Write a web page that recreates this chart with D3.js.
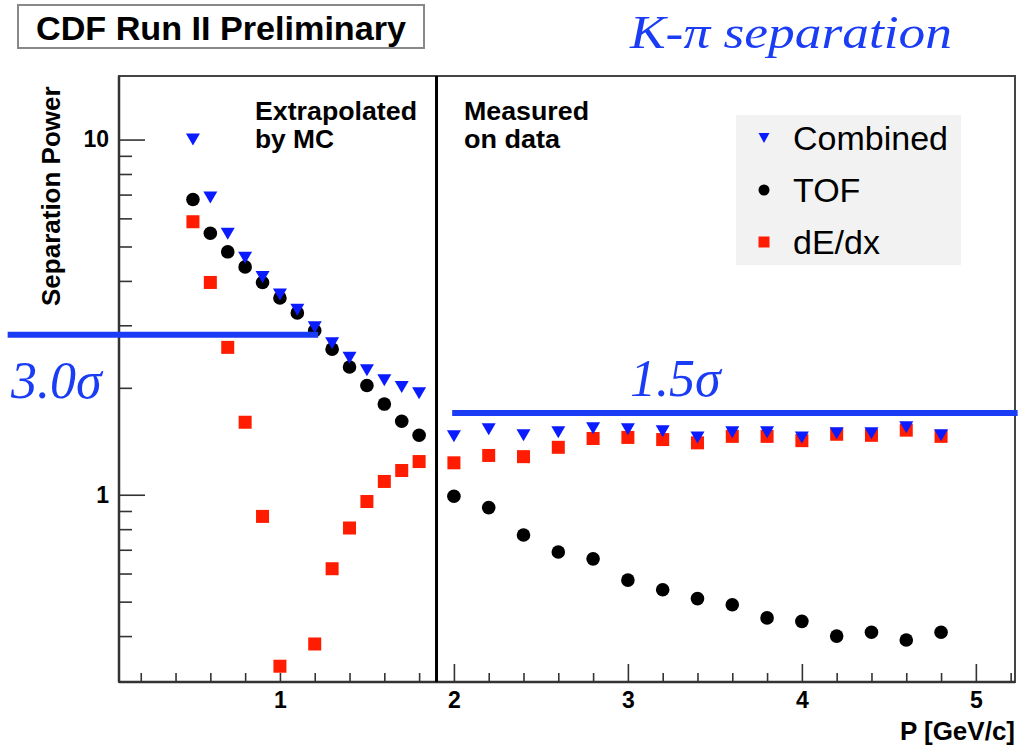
<!DOCTYPE html>
<html>
<head>
<meta charset="utf-8">
<script src="https://cdn.jsdelivr.net/npm/d3@7/dist/d3.min.js"></script>
<style>
  html, body { margin: 0; padding: 0; background: #fff; }
  svg { display: block; }
</style>
</head>
<body>
<svg id="chart" width="1019" height="746"></svg>
<script>
// ---------------- DATA ----------------
const momentum = [0.5, 0.6, 0.7, 0.8, 0.9, 1.0, 1.1, 1.2, 1.3, 1.4, 1.5, 1.6, 1.7, 1.8,
                  2.0, 2.2, 2.4, 2.6, 2.8, 3.0, 3.2, 3.4, 3.6, 3.8, 4.0, 4.2, 4.4, 4.6, 4.8];
const combined = [10.0, 6.87, 5.43, 4.65, 4.10, 3.66, 3.32, 2.96, 2.67, 2.43, 2.24, 2.10, 2.01, 1.93,
                  1.46, 1.53, 1.47, 1.50, 1.54, 1.53, 1.51, 1.45, 1.50, 1.50, 1.45, 1.49, 1.49, 1.55, 1.47];
const tof      = [6.78, 5.45, 4.83, 4.38, 3.96, 3.58, 3.25, 2.90, 2.57, 2.29, 2.03, 1.80, 1.61, 1.47,
                  0.99, 0.92, 0.77, 0.69, 0.66, 0.575, 0.54, 0.51, 0.49, 0.45, 0.44, 0.40, 0.41, 0.39, 0.41];
const dedx     = [5.87, 3.96, 2.60, 1.60, 0.869, 0.329, null, 0.380, 0.619, 0.806, 0.957, 1.09, 1.17, 1.24,
                  1.23, 1.29, 1.28, 1.36, 1.44, 1.45, 1.43, 1.40, 1.46, 1.46, 1.42, 1.48, 1.47, 1.52, 1.46];

const seriesNames = ["Combined", "TOF", "dE/dx"];
const xMajorTicks = [2, 3, 4, 5];
const xMinorTicks = [0.2, 0.4, 0.6, 0.8, 1.0, 1.2, 1.4, 1.6, 1.8, 2.2, 2.4, 2.6, 2.8,
                     3.2, 3.4, 3.6, 3.8, 4.2, 4.4, 4.6, 4.8, 5.2];
const xTickLabels = [1, 2, 3, 4, 5];
const yMajorTicks = [1, 10];
const yMinorTicks = [0.4, 0.5, 0.6, 0.7, 0.8, 0.9, 2, 3, 4, 5, 6, 7, 8, 9];
const boundaryP = 1.9;                     // Extrapolated / Measured boundary
const sigmaLines = [                        // annotation lines [value, pStart, pEnd, label]
  { label: "3.0σ", value: 2.82, p0: -0.565, p1: 1.22 },
  { label: "1.5σ", value: 1.70, p0: 1.99, p1: 5.24 }
];

// ---------------- SETUP ----------------
const svg = d3.select("#chart");
const L = 119, R = 1015, T = 76, B = 682;

const x = d3.scaleLinear().domain([0.075, 5.225]).range([L, R]);
const y = d3.scaleLog().domain([0.297, 15.1]).range([B, T]);

const BLUE = "#0a1cff", RED = "#ff1c00", ANNO = "#1a3cf5";
const sans = "'Liberation Sans', Arial, Helvetica, sans-serif";
const serif = "'Liberation Serif', 'Times New Roman', serif";

svg.append("rect").attr("width", 1019).attr("height", 746).attr("fill", "#fff");

// ---------------- AXES ----------------
function styleAxis(g) {
  g.select(".domain").remove();
  g.selectAll(".tick line").attr("stroke", "#333").attr("stroke-width", 1.6);
  g.selectAll("text").attr("fill", "#000").attr("font-family", sans)
   .attr("font-size", 23).attr("font-weight", "bold");
}
svg.append("g").attr("transform", `translate(0,${B})`)
  .call(d3.axisBottom(x).tickValues(xMinorTicks).tickSize(-9).tickFormat(""))
  .call(styleAxis);
svg.append("g").attr("transform", `translate(0,${B})`)
  .call(d3.axisBottom(x).tickValues(xMajorTicks).tickSize(-18).tickFormat(""))
  .call(styleAxis);
svg.append("g").attr("transform", `translate(0,${B})`)
  .call(d3.axisBottom(x).tickValues(xTickLabels).tickSize(0).tickPadding(10).tickFormat(d3.format("d")))
  .call(styleAxis);

svg.append("g").attr("transform", `translate(${L},0)`)
  .call(d3.axisLeft(y).tickValues(yMinorTicks).tickSize(-13).tickFormat(""))
  .call(styleAxis);
svg.append("g").attr("transform", `translate(${L},0)`)
  .call(d3.axisLeft(y).tickValues(yMajorTicks).tickSize(-26).tickFormat(""))
  .call(styleAxis);
svg.append("g").attr("transform", `translate(${L},0)`)
  .call(d3.axisLeft(y).tickValues(yMajorTicks).tickSize(0).tickPadding(10).tickFormat(d3.format("d")))
  .call(styleAxis);

// frame
svg.append("rect").attr("x", L).attr("y", T).attr("width", R - L).attr("height", B - T)
  .attr("fill", "none").attr("stroke", "#444").attr("stroke-width", 2);
svg.append("line").attr("x1", L).attr("x2", R).attr("y1", B).attr("y2", B)
  .attr("stroke", "#333").attr("stroke-width", 2.5);
svg.append("line").attr("x1", L).attr("x2", L).attr("y1", T).attr("y2", B)
  .attr("stroke", "#333").attr("stroke-width", 2.5);

// boundary
svg.append("line").attr("x1", x(boundaryP)).attr("x2", x(boundaryP)).attr("y1", T).attr("y2", B)
  .attr("stroke", "#000").attr("stroke-width", 3);

// axis titles
svg.append("text").attr("x", R).attr("y", 740).attr("text-anchor", "end")
  .attr("font-family", sans).attr("font-weight", "bold").attr("font-size", 26)
  .text("P [GeV/c]");
svg.append("text").attr("transform", "translate(60,306) rotate(-90)")
  .attr("text-anchor", "start")
  .attr("font-family", sans).attr("font-weight", "bold").attr("font-size", 26)
  .text("Separation Power");

// region labels (separate lines, tight leading as in reference)
function regionText(xp, yp, s, len) {
  const t = svg.append("text").attr("x", xp).attr("y", yp)
    .attr("font-family", sans).attr("font-weight", "bold")
    .attr("font-size", 25).attr("fill", "#000").text(s);
  if (len) t.attr("textLength", len).attr("lengthAdjust", "spacingAndGlyphs");
}
regionText(255, 120, "Extrapolated", 162);
regionText(255, 148, "by MC", 79);
regionText(464, 120, "Measured", 125);
regionText(464, 148, "on data", 96);

// ---------------- MARKERS ----------------
const rows = momentum.map((p, i) => ({ p, c: combined[i], t: tof[i], d: dedx[i] }));
const triPath = "M-7,-6L7,-6L0,6Z";

svg.append("g").selectAll("rect").data(rows.filter(r => r.d != null)).join("rect")
  .attr("x", r => x(r.p) - 6.5).attr("y", r => y(r.d) - 6.5)
  .attr("width", 13).attr("height", 13).attr("fill", RED);
svg.append("g").selectAll("circle").data(rows).join("circle")
  .attr("cx", r => x(r.p)).attr("cy", r => y(r.t)).attr("r", 6.8).attr("fill", "#000");
svg.append("g").selectAll("path").data(rows).join("path")
  .attr("transform", r => `translate(${x(r.p)},${y(r.c)})`).attr("d", triPath).attr("fill", BLUE);

// ---------------- LEGEND ----------------
const lg = svg.append("g");
lg.append("rect").attr("x", 736).attr("y", 115).attr("width", 225).attr("height", 150).attr("fill", "#f2f2f2");
seriesNames.forEach((name, i) => {
  const cy = 138 + i * 52;
  if (i === 0) lg.append("path").attr("transform", `translate(764,${cy})`).attr("d", "M-5.5,-5L5.5,-5L0,5Z").attr("fill", BLUE);
  if (i === 1) lg.append("circle").attr("cx", 764).attr("cy", cy).attr("r", 5.5).attr("fill", "#000");
  if (i === 2) lg.append("rect").attr("x", 758.5).attr("y", cy - 5.5).attr("width", 11).attr("height", 11).attr("fill", RED);
  lg.append("text").attr("x", 793).attr("y", cy).attr("dy", "0.36em")
    .attr("font-family", sans).attr("font-size", 34).attr("fill", "#000").text(name);
});

// ---------------- ANNOTATIONS ----------------
svg.append("rect").attr("x", 18).attr("y", 5).attr("width", 406).attr("height", 43)
  .attr("fill", "#fff").attr("stroke", "#888").attr("stroke-width", 2);
svg.append("text").attr("x", 221).attr("y", 40).attr("text-anchor", "middle")
  .attr("font-family", sans).attr("font-weight", "bold").attr("font-size", 33)
  .attr("textLength", 370).attr("lengthAdjust", "spacingAndGlyphs")
  .text("CDF Run II Preliminary");

svg.append("text").attr("x", 630).attr("y", 48)
  .attr("font-family", serif).attr("font-style", "italic").attr("font-size", 46)
  .attr("fill", ANNO).attr("textLength", 322).attr("lengthAdjust", "spacingAndGlyphs")
  .text("K-π separation");

svg.append("g").selectAll("line").data(sigmaLines).join("line")
  .attr("x1", d => x(d.p0)).attr("x2", d => x(d.p1))
  .attr("y1", d => y(d.value)).attr("y2", d => y(d.value))
  .attr("stroke", ANNO).attr("stroke-width", 6);

svg.append("text").attr("x", 11).attr("y", 398)
  .attr("font-family", serif).attr("font-style", "italic").attr("font-size", 52)
  .attr("fill", ANNO).text(sigmaLines[0].label);
svg.append("text").attr("x", 630).attr("y", 396)
  .attr("font-family", serif).attr("font-style", "italic").attr("font-size", 52)
  .attr("fill", ANNO).text(sigmaLines[1].label);
</script>
</body>
</html>
